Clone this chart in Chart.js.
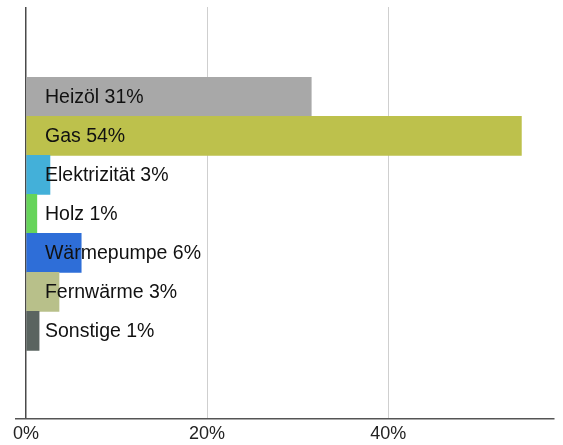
<!DOCTYPE html>
<html>
<head>
<meta charset="utf-8">
<script src="https://cdn.jsdelivr.net/npm/chart.js@4"></script>
<style>
  html, body { margin: 0; padding: 0; background: #fff; }
  #wrap { width: 563px; height: 445px; }
</style>
</head>
<body>
<div id="wrap"><canvas id="barchart"></canvas></div>
<script>
// data
var categories = ['Heizöl', 'Gas', 'Elektrizität', 'Holz', 'Wärmepumpe', 'Fernwärme', 'Sonstige'];
var shares = [31.5, 54.7, 2.65, 1.2, 6.1, 3.65, 1.45];      // bar length in %
var shareLabels = [31, 54, 3, 1, 6, 3, 1];                   // printed %
var tickValues = [0, 20, 40];
var colors = ['#a8a8a8', '#bdc14c', '#43b0d9', '#66d45a', '#2e6ed8', '#b8c08a', '#5a6460'];

var FONT = 'Arial, "Liberation Sans", sans-serif';

var barLabels = {
  id: 'barLabels',
  afterDatasetsDraw: function(chart) {
    var ctx = chart.ctx;
    var x0 = chart.scales.x.getPixelForValue(0);
    ctx.save();
    ctx.font = '19.5px ' + FONT;
    ctx.fillStyle = '#111';
    ctx.textAlign = 'left';
    ctx.textBaseline = 'middle';
    chart.getDatasetMeta(0).data.forEach(function(bar, i) {
      ctx.fillText(categories[i] + ' ' + shareLabels[i] + '%', x0 + 19, bar.y + 1);
    });
    ctx.restore();
  }
};

var ctx = document.getElementById('barchart').getContext('2d');
var myChart = new Chart(ctx, {
  type: 'bar',
  data: {
    datasets: [{
      data: shares.map(function(v, i) { return { x: v, y: i }; }),
      backgroundColor: colors,
      borderWidth: 0,
      barPercentage: 1,
      categoryPercentage: 1
    }]
  },
  options: {
    indexAxis: 'y',
    responsive: true,
    maintainAspectRatio: false,
    animation: false,
    layout: { padding: { left: 16, right: 9, top: 7, bottom: -5 } },
    plugins: {
      legend: { display: false },
      tooltip: { enabled: false }
    },
    scales: {
      x: {
        type: 'linear',
        min: -1.1,
        max: 58.3,
        afterBuildTicks: function(scale) {
          scale.ticks = tickValues.map(function(v) { return { value: v }; });
        },
        grid: {
          drawTicks: false,
          color: function(c) { return c.tick && c.tick.value === 0 ? '#4a4a4a' : '#cfcfcf'; },
          lineWidth: function(c) { return c.tick && c.tick.value === 0 ? 1.5 : 1; }
        },
        border: { display: true, color: '#555', width: 1.5 },
        ticks: {
          padding: 5,
          color: '#222',
          font: { family: FONT, size: 18 },
          callback: function(v) { return v + '%'; }
        }
      },
      y: {
        type: 'linear',
        reverse: true,
        offset: false,
        grid: { offset: false },
        min: -2.3,
        max: 8.24,
        display: false,
        afterBuildTicks: function(scale) {
          scale.ticks = categories.map(function(c, i) { return { value: i }; });
        }
      }
    }
  },
  plugins: [barLabels]
});
</script>
</body>
</html>
